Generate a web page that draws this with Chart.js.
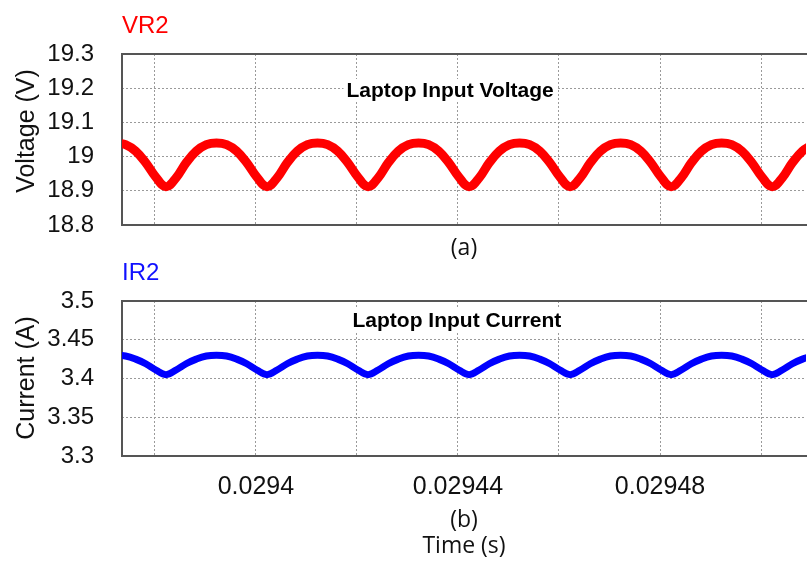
<!DOCTYPE html>
<html>
<head>
<meta charset="utf-8">
<script src="https://cdn.jsdelivr.net/npm/chart.js@4"></script>
<style>
html, body { margin: 0; padding: 0; overflow: hidden; background: #fff; }
body { width: 807px; height: 565px; position: relative; }
canvas { position: absolute; left: 0; }
#chartV { top: 0; }
#chartI { top: 258px; }
</style>
</head>
<body>
<canvas id="chartV" width="807" height="268"></canvas>
<canvas id="chartI" width="807" height="307"></canvas>
<script>
// sample times (s)
var timeS = [
  0.0293722, 0.0293742, 0.0293762, 0.0293782, 0.0293802, 0.0293822, 0.0293842, 0.0293862, 0.0293882, 0.0293902,
  0.0293922, 0.0293942, 0.0293962, 0.0293982, 0.0294002, 0.0294022, 0.0294042, 0.0294062, 0.0294082, 0.0294102,
  0.0294122, 0.0294142, 0.0294162, 0.0294182, 0.0294202, 0.0294222, 0.0294242, 0.0294262, 0.0294282, 0.0294302,
  0.0294322, 0.0294342, 0.0294362, 0.0294382, 0.0294402, 0.0294422, 0.0294442, 0.0294462, 0.0294482, 0.0294502,
  0.0294522, 0.0294542, 0.0294562, 0.0294582, 0.0294602, 0.0294622, 0.0294642, 0.0294662, 0.0294682, 0.0294702,
  0.0294722, 0.0294742, 0.0294762, 0.0294782, 0.0294802, 0.0294822, 0.0294842, 0.0294862, 0.0294882, 0.0294902,
  0.0294922, 0.0294942, 0.0294962, 0.0294982, 0.0295002, 0.0295022, 0.0295042, 0.0295062, 0.0295082, 0.0295102
];

// VR2 (V)
var vr2 = [
  19.040, 19.035, 19.016, 18.982, 18.940, 18.912, 18.938, 18.982, 19.016, 19.035,
  19.040, 19.035, 19.016, 18.982, 18.940, 18.912, 18.938, 18.982, 19.016, 19.035,
  19.040, 19.035, 19.016, 18.982, 18.940, 18.912, 18.938, 18.982, 19.016, 19.035,
  19.040, 19.035, 19.016, 18.982, 18.940, 18.912, 18.938, 18.982, 19.016, 19.035,
  19.040, 19.035, 19.016, 18.982, 18.940, 18.912, 18.938, 18.982, 19.016, 19.035,
  19.040, 19.035, 19.016, 18.982, 18.940, 18.912, 18.938, 18.982, 19.016, 19.035,
  19.040, 19.035, 19.016, 18.982, 18.940, 18.912, 18.938, 18.982, 19.016, 19.035
];

// IR2 (A)
var ir2 = [
  3.430, 3.429, 3.425, 3.419, 3.411, 3.405, 3.411, 3.419, 3.425, 3.429,
  3.430, 3.429, 3.425, 3.419, 3.411, 3.405, 3.411, 3.419, 3.425, 3.429,
  3.430, 3.429, 3.425, 3.419, 3.411, 3.405, 3.411, 3.419, 3.425, 3.429,
  3.430, 3.429, 3.425, 3.419, 3.411, 3.405, 3.411, 3.419, 3.425, 3.429,
  3.430, 3.429, 3.425, 3.419, 3.411, 3.405, 3.411, 3.419, 3.425, 3.429,
  3.430, 3.429, 3.425, 3.419, 3.411, 3.405, 3.411, 3.419, 3.425, 3.429,
  3.430, 3.429, 3.425, 3.419, 3.411, 3.405, 3.411, 3.419, 3.425, 3.429
];

var xMin = 0.0293735, xMax = 0.0295089;
var xGrid = [0.02938, 0.0294, 0.02942, 0.02944, 0.02946, 0.02948, 0.0295];
var xTickVals = [0.0294, 0.02944, 0.02948];
var xTickLabels = ['0.0294', '0.02944', '0.02948'];

var vTicks = [18.8, 18.9, 19, 19.1, 19.2, 19.3];
var vTickLabels = ['18.8', '18.9', '19', '19.1', '19.2', '19.3'];
var iTicks = [3.3, 3.35, 3.4, 3.45, 3.5];
var iTickLabels = ['3.3', '3.35', '3.4', '3.45', '3.5'];

var arial = '"Liberation Sans", Arial, sans-serif';
var calib = '"Open Sans", "Noto Sans", sans-serif';

function points(vals) {
  return timeS.map(function (t, i) { return { x: t, y: vals[i] }; });
}

// frame (right side is cut off), inner title, signal name, y axis title
function decor(name, nameColor, nameY, title, titleX, titleY, yTitle, yTitleY) {
  return {
    id: 'decor',
    beforeDatasetsDraw: function (chart) {
      var ctx = chart.ctx, a = chart.chartArea;
      ctx.save();
      ctx.font = 'bold 21px ' + arial;
      var w = ctx.measureText(title).width;
      ctx.fillStyle = '#fff';
      ctx.fillRect(titleX - 3, titleY - 18, w + 6, 23);
      ctx.fillStyle = '#000';
      ctx.textBaseline = 'alphabetic';
      ctx.fillText(title, titleX, titleY);
      ctx.strokeStyle = '#555';
      ctx.lineWidth = 2;
      ctx.beginPath();
      ctx.moveTo(a.right + 2, a.top);
      ctx.lineTo(a.left, a.top);
      ctx.lineTo(a.left, a.bottom);
      ctx.lineTo(a.right + 2, a.bottom);
      ctx.stroke();
      ctx.font = '24px ' + arial;
      ctx.fillStyle = nameColor;
      ctx.fillText(name, a.left, nameY);
      // rotated y title
      ctx.translate(27, yTitleY);
      ctx.rotate(-Math.PI / 2);
      ctx.font = '25px ' + arial;
      ctx.fillStyle = '#111';
      ctx.textAlign = 'center';
      ctx.textBaseline = 'middle';
      ctx.fillText(yTitle, 0, 0);
      ctx.restore();
    }
  };
}

function makeChart(id, vals, color, lineW, yTicks, yLabels, showX, xTitle, xHeight, xTitlePad, padTop, plugin) {
  return new Chart(id, {
    type: 'line',
    data: {
      datasets: [{
        data: points(vals),
        borderColor: color,
        borderWidth: lineW,
        pointRadius: 0,
        fill: false,
        tension: 0.4
      }]
    },
    plugins: [plugin],
    options: {
      responsive: false,
      animation: false,
      layout: { padding: { top: padTop, right: 1, left: 0, bottom: 0 } },
      plugins: { legend: { display: false }, tooltip: { enabled: false } },
      scales: {
        x: {
          type: 'linear',
          min: xMin,
          max: xMax,
          afterFit: function (s) { s.height = xHeight; },
          afterBuildTicks: function (s) { s.ticks = xGrid.map(function (v) { return { value: v }; }); },
          ticks: {
            display: showX,
            autoSkip: false,
            maxRotation: 0,
            padding: 16,
            color: '#111',
            font: { family: arial, size: 25 },
            callback: function (v) {
              for (var i = 0; i < xTickVals.length; i++) {
                if (Math.abs(v - xTickVals[i]) < 1e-9) return xTickLabels[i];
              }
              return '';
            }
          },
          grid: { drawTicks: false, color: '#9a9a9a', lineWidth: 1 },
          border: { display: false, dash: [2, 2] },
          title: {
            display: true,
            text: xTitle,
            color: '#111',
            font: { family: calib, size: 23, lineHeight: 1.15 },
            padding: { top: 0, bottom: xTitlePad }
          }
        },
        y: {
          min: yTicks[0],
          max: yTicks[yTicks.length - 1],
          afterFit: function (s) { s.width = 122; },
          afterBuildTicks: function (s) { s.ticks = yTicks.map(function (v) { return { value: v }; }); },
          ticks: {
            padding: 28,
            color: '#111',
            font: { family: arial, size: 24 },
            callback: function (v, i) { return yLabels[i]; }
          },
          grid: {
            drawTicks: false,
            lineWidth: 1,
            color: function (c) {
              return (c.index === 0 || c.index === yTicks.length - 1) ? 'rgba(0,0,0,0)' : '#9a9a9a';
            }
          },
          border: { display: false, dash: [2, 2] }
        }
      }
    }
  });
}

makeChart('chartV', vr2, '#ff0000', 9, vTicks, vTickLabels,
  false, '(a)', 43, 6, 54,
  decor('VR2', '#ff0000', 33, 'Laptop Input Voltage', 346.5, 97, 'Voltage (V)', 131));

makeChart('chartI', ir2, '#0000ff', 7, iTicks, iTickLabels,
  true, ['(b)', 'Time (s)'], 109, 5, 43,
  decor('IR2', '#1010ff', 22, 'Laptop Input Current', 352.5, 69, 'Current (A)', 120));
</script>
</body>
</html>
